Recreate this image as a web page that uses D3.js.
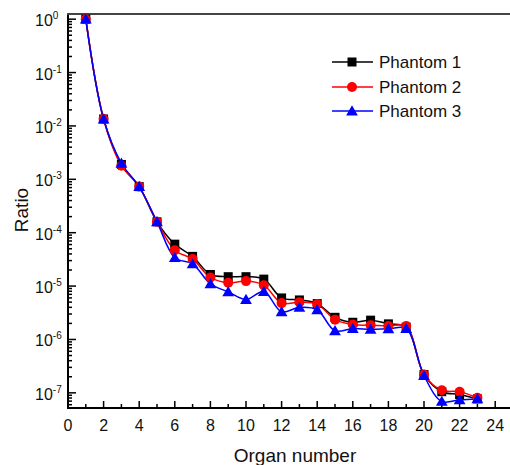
<!DOCTYPE html>
<html>
<head>
<meta charset="utf-8">
<script src="https://cdn.jsdelivr.net/npm/d3@7"></script>
<style>
  body { margin: 0; background: #fff; }
  text { font-family: "Liberation Sans", Arial, sans-serif; }
</style>
</head>
<body>
<script>
var organs = [1,2,3,4,5,6,7,8,9,10,11,12,13,14,15,16,17,18,19,20,21,22,23];
var phantom1 = [1.0,0.0135,1.9e-3,7.3e-4,1.6e-4,6.1e-5,3.6e-5,1.65e-5,1.5e-5,1.5e-5,1.35e-5,6.0e-6,5.5e-6,4.7e-6,2.6e-6,2.1e-6,2.3e-6,1.96e-6,1.7e-6,2.2e-7,1.05e-7,9.3e-8,7.7e-8];
var phantom2 = [1.0,0.0135,1.8e-3,7.3e-4,1.6e-4,4.7e-5,3.2e-5,1.45e-5,1.15e-5,1.24e-5,1.04e-5,4.8e-6,5.0e-6,4.6e-6,2.35e-6,1.9e-6,1.85e-6,1.78e-6,1.78e-6,2.2e-7,1.12e-7,1.05e-7,8.1e-8];
var phantom3 = [1.0,0.0135,2.0e-3,7.3e-4,1.6e-4,3.4e-5,2.6e-5,1.1e-5,7.8e-6,5.6e-6,7.9e-6,3.3e-6,4.0e-6,3.6e-6,1.45e-6,1.6e-6,1.55e-6,1.58e-6,1.6e-6,2.1e-7,6.9e-8,7.4e-8,7.7e-8];
var seriesNames = ["Phantom 1","Phantom 2","Phantom 3"];
var xTicks = [0,2,4,6,8,10,12,14,16,18,20,22,24];
var yExps = [0,-1,-2,-3,-4,-5,-6,-7];

var W = 510, H = 465;
var svg = d3.select("body").append("svg").attr("width", W).attr("height", H);

var x = d3.scaleLinear().domain([0, 25]).range([68, 513]);
var y = d3.scaleLog().domain([5.2e-8, 1.25]).range([408, 14]);

var colors = ["#000000", "#ff0000", "#0000ff"];
var allSeries = [phantom1, phantom2, phantom3];

// frame: left, bottom, top
svg.append("line").attr("x1", 68).attr("x2", 68).attr("y1", 14).attr("y2", 409)
  .attr("stroke", "#000").attr("stroke-width", 2);
svg.append("line").attr("x1", 67).attr("x2", W).attr("y1", 408).attr("y2", 408)
  .attr("stroke", "#000").attr("stroke-width", 2);
svg.append("line").attr("x1", 67).attr("x2", W).attr("y1", 14).attr("y2", 14)
  .attr("stroke", "#444").attr("stroke-width", 2);

// x ticks (inward)
var xMinor = d3.range(1, 25, 2);
svg.selectAll(".xmaj").data(xTicks).enter().append("line")
  .attr("x1", function(d){ return x(d); }).attr("x2", function(d){ return x(d); })
  .attr("y1", 408).attr("y2", 401).attr("stroke", "#000").attr("stroke-width", 1.5);
svg.selectAll(".xmin").data(xMinor).enter().append("line")
  .attr("x1", function(d){ return x(d); }).attr("x2", function(d){ return x(d); })
  .attr("y1", 408).attr("y2", 404).attr("stroke", "#000").attr("stroke-width", 1.5);
svg.selectAll(".xlab").data(xTicks).enter().append("text")
  .attr("x", function(d){ return x(d); }).attr("y", 431)
  .attr("text-anchor", "middle").attr("font-size", 16).attr("fill", "#111")
  .text(function(d){ return d; });

// y ticks (log, inward)
var yAll = y.ticks().filter(function(d){ return d >= 5.2e-8 && d <= 1.25; });
svg.selectAll(".ytick").data(yAll).enter().append("line")
  .attr("x1", 68)
  .attr("x2", function(d){
    var e = Math.log10(d);
    return Math.abs(e - Math.round(e)) < 1e-6 ? 76 : 72;
  })
  .attr("y1", function(d){ return y(d); }).attr("y2", function(d){ return y(d); })
  .attr("stroke", "#000").attr("stroke-width", 1.5);
var ylab = svg.selectAll(".ylab").data(yExps).enter().append("text")
  .attr("x", 35).attr("y", function(d){ return y(Math.pow(10, d)) + 7; })
  .attr("text-anchor", "start").attr("font-size", 16).attr("fill", "#111");
ylab.append("tspan").text("10");
ylab.append("tspan").attr("dy", -7).attr("font-size", 10)
  .text(function(d){ return d < 0 ? "-" + (-d) : d; });

// axis titles
svg.append("text").attr("x", 295).attr("y", 462).attr("text-anchor", "middle")
  .attr("font-size", 19).attr("fill", "#111").text("Organ number");
svg.append("text").attr("transform", "translate(28,210) rotate(-90)")
  .attr("text-anchor", "middle").attr("font-size", 19).attr("fill", "#111").text("Ratio");

// lines
var line = d3.line()
  .x(function(d, i){ return x(organs[i]); })
  .y(function(d){ return y(d); })
  .curve(d3.curveCatmullRom.alpha(0.5));

allSeries.forEach(function(s, k){
  svg.append("path").attr("d", line(s)).attr("fill", "none")
    .attr("stroke", colors[k]).attr("stroke-width", 1.5);
});

function drawMarker(g, k, cx, cy) {
  if (k === 0) {
    g.append("rect").attr("x", cx - 4.5).attr("y", cy - 4.5).attr("width", 9).attr("height", 9)
      .attr("fill", colors[0]);
  } else if (k === 1) {
    g.append("circle").attr("cx", cx).attr("cy", cy).attr("r", 5).attr("fill", colors[1]);
  } else {
    g.append("path").attr("d", d3.symbol().type(d3.symbolTriangle).size(60)())
      .attr("transform", "translate(" + cx + "," + (cy + 1) + ")").attr("fill", colors[2]);
  }
}

allSeries.forEach(function(s, k){
  var g = svg.append("g");
  s.forEach(function(v, i){ drawMarker(g, k, x(organs[i]), y(v)); });
});

// legend
var legY = [62, 87, 111];
seriesNames.forEach(function(name, k){
  var g = svg.append("g");
  g.append("line").attr("x1", 332).attr("x2", 373).attr("y1", legY[k]).attr("y2", legY[k])
    .attr("stroke", colors[k]).attr("stroke-width", 1.5);
  drawMarker(g, k, 352, legY[k]);
  g.append("text").attr("x", 379).attr("y", legY[k] + 6).attr("font-size", 17)
    .attr("fill", "#111").text(name);
});
</script>
</body>
</html>
